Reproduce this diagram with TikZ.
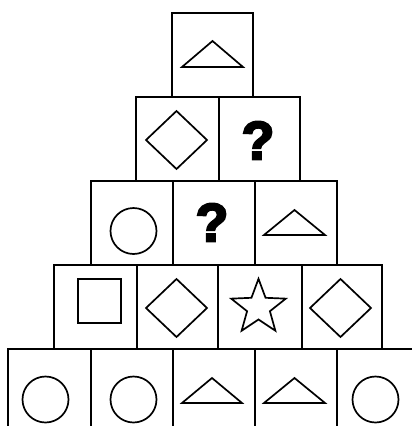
\documentclass[tikz,border=0pt]{standalone}
\usepackage{fontspec}
\newfontfamily\qfont[FakeBold=4]{Liberation Sans Bold}
\begin{document}
\begin{tikzpicture}[x=1pt,y=-1pt,
  cell/.style={draw=black,line width=1.9pt},
  shp/.style={draw=black,line width=1.7pt,line join=miter},
  qmark/.style={inner sep=0pt,font=\qfont\fontsize{54}{54}\selectfont}]
\useasboundingbox (0,0) rectangle (412,426);
\clip (0,0) rectangle (412,426);
% boxes
\draw[cell] (172,13) rectangle (253,97);
\draw[cell] (136,97) rectangle (219,181);
\draw[cell] (219,97) rectangle (300,181);
\draw[cell] (91,181) rectangle (173,265);
\draw[cell] (173,181) rectangle (255,265);
\draw[cell] (255,181) rectangle (337,265);
\draw[cell] (54,265) rectangle (137,349);
\draw[cell] (137,265) rectangle (218,349);
\draw[cell] (218,265) rectangle (302,349);
\draw[cell] (302,265) rectangle (382,349);
\draw[cell] (8,349) rectangle (91,433);
\draw[cell] (91,349) rectangle (173,433);
\draw[cell] (173,349) rectangle (255,433);
\draw[cell] (255,349) rectangle (337,433);
\draw[cell] (337,349) rectangle (420,433);
% triangles
\draw[shp] (182,67) -- (212.5,41) -- (243,67) -- cycle;
\draw[shp] (264,235) -- (294.5,210) -- (325,235) -- cycle;
\draw[shp] (182,403) -- (212,378) -- (242,403) -- cycle;
\draw[shp] (264,403) -- (294.5,378) -- (325,403) -- cycle;
% diamonds
\draw[shp] (146,140) -- (176.5,111) -- (207,140) -- (176.5,169) -- cycle;
\draw[shp] (146,308) -- (176.5,279) -- (207,308) -- (176.5,337) -- cycle;
\draw[shp] (310,308) -- (340.5,279) -- (371,308) -- (340.5,337) -- cycle;
% square
\draw[shp] (78,279) rectangle (121,323);
% star
\begin{scope}[shift={(258.5,307.5)}]
\draw[shp] (-90:28.7) -- (-54:12) -- (-18:28.7) -- (18:12) -- (54:28.7)
  -- (90:12) -- (126:28.7) -- (162:12) -- (198:28.7) -- (234:12) -- cycle;
\end{scope}
% circles
\draw[shp] (133.5,231) circle[radius=23];
\draw[shp] (45.5,399.5) circle[radius=23];
\draw[shp] (133.5,399.5) circle[radius=23];
\draw[shp] (375.5,399.5) circle[radius=23];
% question marks
\node[qmark] (q1) at (258,140.5) {?};
\node[qmark] (q2) at (212,222.5) {?};
\end{tikzpicture}
\end{document}
